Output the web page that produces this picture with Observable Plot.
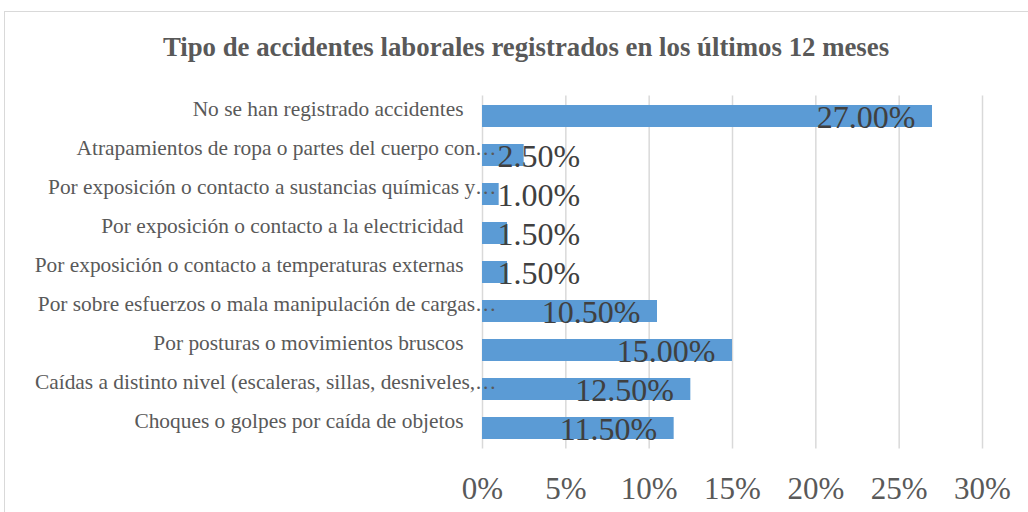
<!DOCTYPE html>
<html>
<head>
<meta charset="utf-8">
<script src="https://cdn.jsdelivr.net/npm/d3@7"></script>
<script src="https://cdn.jsdelivr.net/npm/@observablehq/plot@0.6"></script>
<style>
  html, body { margin: 0; padding: 0; background: #fff; }
  #wrap { position: relative; width: 1028px; height: 512px; overflow: hidden; background: #fff; }
  #frame { position: absolute; left: 4px; top: 11px; width: 1100px; height: 600px; border: 1.5px solid #d9d9d9; box-sizing: border-box; pointer-events: none; }
  #title { position: relative; height: 80px; }
  #title div { position: absolute; left: 0; width: 1052px; top: 34px; height: 27px; line-height: 27px; text-align: center;
    font-family: "Liberation Serif", "Times New Roman", serif; font-weight: bold; font-size: 26.8px; color: #595959; white-space: nowrap; }
  #plot svg { display: block; }
</style>
</head>
<body>
<div id="wrap">
  <div id="title"><div>Tipo de accidentes laborales registrados en los últimos 12 meses</div></div>
  <div id="plot"></div>
  <div id="frame"></div>
</div>
<script>
// Categories, top to bottom
const categories = [
  "No se han registrado accidentes",
  "Atrapamientos de ropa o partes del cuerpo con…",
  "Por exposición o contacto a sustancias químicas y…",
  "Por exposición o contacto a la electricidad",
  "Por exposición o contacto a temperaturas externas",
  "Por sobre esfuerzos o mala manipulación de cargas…",
  "Por posturas o movimientos bruscos",
  "Caídas a distinto nivel (escaleras, sillas, desniveles,…",
  "Choques o golpes por caída de objetos"
];
// Percentages
const values = [27.0, 2.5, 1.0, 1.5, 1.5, 10.5, 15.0, 12.5, 11.5];
// Axis ticks (percent)
const tickValues = [0, 5, 10, 15, 20, 25, 30];

const data = categories.map((c, i) => ({cat: c, value: values[i] / 100}));
const ticks = tickValues.map(t => t / 100);
const truncated = categories.filter(c => c.endsWith("…"));
const normal = categories.filter(c => !c.endsWith("…"));
const fmt = d => (d.value * 100).toFixed(2) + "%";

const chart = Plot.plot({
  width: 1028,
  height: 432,
  marginLeft: 482,
  marginRight: 46,
  marginTop: 15.4,
  marginBottom: 63.4,
  style: {fontFamily: "'Liberation Serif', 'Times New Roman', serif", background: "white", overflow: "visible"},
  x: {domain: [0, 0.30], label: null},
  y: {domain: categories, paddingInner: 0.44, paddingOuter: 0.22, label: null},
  marks: [
    Plot.gridX(ticks, {stroke: "#d9d9d9", strokeOpacity: 1, strokeWidth: 1.5}),
    Plot.barX(data, {x: "value", y: "cat", fill: "#5B9BD5"}),
    Plot.text(data.filter(d => d.value >= 0.05), {
      x: "value", y: "cat", text: fmt, textAnchor: "end", dx: -17, dy: 1,
      fontSize: 32, fill: "#404040"
    }),
    Plot.text(data.filter(d => d.value < 0.05), {
      x: () => 0, y: "cat", text: fmt, textAnchor: "start", dx: 15, dy: 1,
      fontSize: 32, fill: "#404040"
    }),
    Plot.axisX({ticks, tickFormat: d => Math.round(d * 100) + "%", tickSize: 0, tickPadding: 28,
      fontSize: 31, color: "#595959", label: null}),
    Plot.axisY({ticks: normal, tickSize: 0, tickPadding: 19, fontSize: 21.4, dy: -7, color: "#595959", label: null}),
    Plot.axisY({ticks: truncated, tickSize: 0, tickPadding: -14, fontSize: 21.4, dy: -7, color: "#595959", label: null})
  ]
});
document.getElementById("plot").appendChild(chart);
</script>
</body>
</html>
